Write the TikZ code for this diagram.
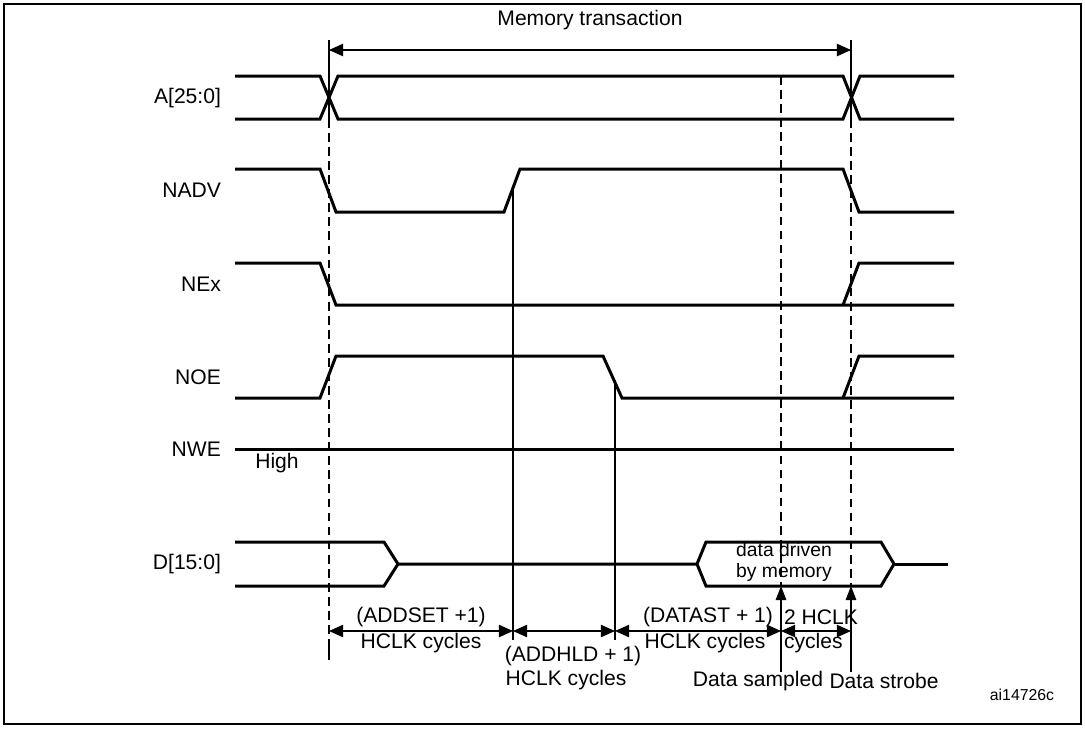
\documentclass[tikz,border=0pt]{standalone}
\usepackage{fontspec}
\setmainfont{Liberation Sans}
\usetikzlibrary{positioning,arrows.meta}

\tikzset{
  sig/.style={line width=1.7pt, line join=miter},
  lbl/.style={font=\fontsize{12}{13}\selectfont, inner sep=1pt},
  txt/.style={font=\fontsize{12}{12}\selectfont, inner sep=1pt, align=center},
  tick/.style={line width=0.6pt},
  guide/.style={line width=0.6pt, dash pattern=on 5pt off 3pt},
  span/.style={line width=0.7pt, {Triangle[length=8pt,width=7pt]}-{Triangle[length=8pt,width=7pt]}},
  up/.style={line width=0.7pt, -{Triangle[length=8pt,width=6pt]}}
}

\begin{document}
\begin{tikzpicture}[x=0.02cm, y=-0.02cm]
\useasboundingbox (0,0) rectangle (1085,728);
\draw[line width=1pt] (4,4) rectangle (1081,724);

% signal names
\node[lbl, anchor=east] (nA) at (223,98) {A[25:0]};
\node[lbl, anchor=east] (nNADV) at (223,190) {NADV};
\node[lbl, anchor=east] (nNEx) at (223,284) {NEx};
\node[lbl, anchor=east] (nNOE) at (223,377) {NOE};
\node[lbl, anchor=east] (nNWE) at (223,449) {NWE};
\node[lbl, anchor=east] (nD) at (223,564) {D[15:0]};
\node[lbl] (high) at (277,463) {High};

% waveforms
\draw[sig] (235,76) -- (320,76) -- (338,119) -- (843,119) -- (860,76) -- (954,76);
\draw[sig] (235,119) -- (320,119) -- (338,76) -- (843,76) -- (860,119) -- (954,119);
\draw[sig] (235,169) -- (320,169) -- (336,212) -- (504,212) -- (520,169) -- (843,169) -- (859,212) -- (954,212);
\draw[sig] (235,263) -- (320,263) -- (336,305) -- (954,305);
\draw[sig] (843,305) -- (859,263) -- (954,263);
\draw[sig] (235,398) -- (320,398) -- (336,356) -- (603,356) -- (622,398) -- (954,398);
\draw[sig] (843,398) -- (859,356) -- (954,356);
\draw[sig] (235,449) -- (954,449);
\draw[sig] (235,542) -- (384,542) -- (398,564) -- (384,586) -- (235,586);
\draw[sig] (398,564) -- (697,564) -- (706,542) -- (881,542) -- (894,564) -- (881,586) -- (706,586) -- (697,564);
\draw[sig] (894,564) -- (948,564);
\node[txt, font=\fontsize{11}{12}\selectfont] (dd) at (784,562) {data driven\\by memory};

% timing marks
\coordinate (t0top) at (329,40);
\coordinate (t4top) at (851,40);
\coordinate (t1top) at (513,190);
\coordinate (t1bot) at (513,640);
\coordinate (t2top) at (615,380);
\coordinate (t2bot) at (615,640);
\draw[tick] (t0top) -- (329,119);
\draw[guide] (329,119) -- (329,640);
\draw[tick] (329,640) -- (329,660);
\draw[tick] (t4top) -- (851,119);
\draw[guide] (851,119) -- (851,586);
\draw[guide] (781,76) -- (781,586);
\draw[tick] (t1top) -- (t1bot);
\draw[tick] (t2top) -- (t2bot);
\draw[up] (781,672) -- (781,586);
\draw[up] (851,672) -- (851,586);

% spans
\draw[span] (329,50) -- (851,50) node[txt, midway, above=10pt] (mt) {Memory transaction};
\coordinate (s0) at (329,631);
\coordinate (s1) at (513,631);
\coordinate (s2) at (615,631);
\coordinate (s3) at (781,631);
\coordinate (s4) at (851,631);
\draw[span] (s0) -- (s1);
\draw[span] (s1) -- (s2);
\draw[span] (s2) -- (s3);
\draw[span] (s3) -- (s4);

\node[txt] (addset) at (421,617) {(ADDSET +1)};
\node[txt] (addsetc) at (421,643) {HCLK cycles};
\node[txt] (addhld) at (573,656) {(ADDHLD + 1)};
\node[txt] (addhldc) at (566,680) {HCLK cycles};
\node[txt] (datast) at (708,617) {(DATAST + 1)};
\node[txt] (datastc) at (705,643) {HCLK cycles};
\node[txt, anchor=west] (two) at (782,617) {2 HCLK};
\node[txt, anchor=west] (twoc) at (782,643) {cycles};
\node[txt] (samp) at (758,681) {Data sampled};
\node[txt] (strobe) at (884,681) {Data strobe};
\node[font=\fontsize{9}{9}\selectfont] (ref) at (1022,695) {ai14726c};
\end{tikzpicture}
\end{document}
